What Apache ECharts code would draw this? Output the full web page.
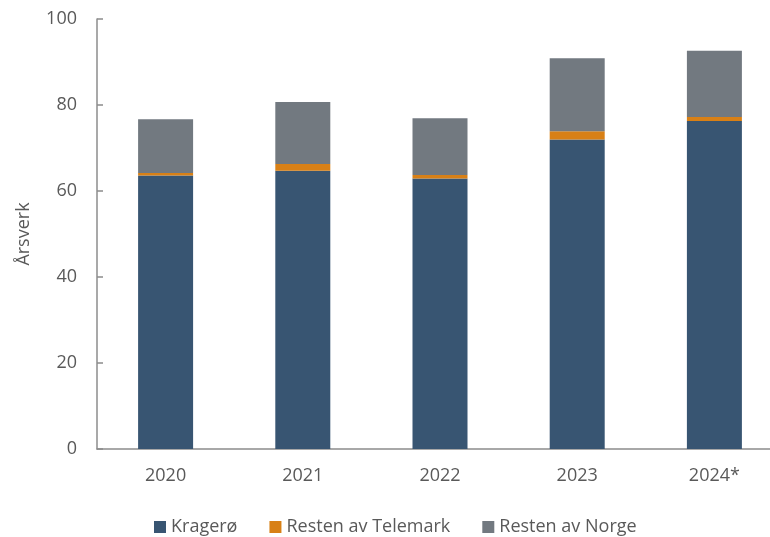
<!DOCTYPE html>
<html>
<head>
<meta charset="utf-8">
<script src="https://cdn.jsdelivr.net/npm/echarts@6/dist/echarts.min.js"></script>
<style>
  html, body { margin: 0; padding: 0; background: #fff; }
  #chart { width: 770px; height: 537px; }
</style>
</head>
<body>
<div id="chart"></div>
<script>
// data (Årsverk per year)
const years = ['2020', '2021', '2022', '2023', '2024*'];
const kragero = [63.6, 64.7, 62.9, 72.0, 76.3];
const restTelemark = [0.6, 1.6, 0.8, 1.9, 0.9];
const restNorge = [12.5, 14.4, 13.2, 17.0, 15.4];
const yTicks = [0, 20, 40, 60, 80, 100];

const FONT = '"Open Sans", "Noto Sans", sans-serif';
const TEXT = '#595959';

const chart = echarts.init(document.getElementById('chart'), null, { renderer: 'canvas' });

function stacked(name, data, color) {
    return {
        name, type: 'bar', stack: 'total', data,
        barWidth: 55,
        itemStyle: { color },
        emphasis: { disabled: true },
    };
}

chart.setOption({
    animation: false,
    textStyle: { fontFamily: FONT },
    // plot runs past the right edge in the reference (cropped), so fix the width
    grid: { left: 97, width: 686, top: 19, bottom: 88, containLabel: false, outerBoundsMode: 'none' },
    legend: {
        top: 518, left: 154, padding: 0,
        itemWidth: 12, itemHeight: 12, itemGap: 32,
        icon: 'rect',
        textStyle: { fontFamily: FONT, fontSize: 18, color: TEXT },
        data: ['Kragerø', 'Resten av Telemark', 'Resten av Norge'],
    },
    xAxis: {
        type: 'category', data: years,
        axisLine: { lineStyle: { color: '#8c8c8c', width: 1.5 } },
        axisTick: { show: false },
        axisLabel: { color: TEXT, fontSize: 18, fontFamily: FONT, margin: 18 },
    },
    yAxis: {
        type: 'value', min: yTicks[0], max: yTicks[yTicks.length - 1], interval: 20,
        name: 'Årsverk', nameLocation: 'middle', nameGap: 64,
        nameTextStyle: { color: TEXT, fontSize: 18, fontFamily: FONT },
        axisLine: { show: true, lineStyle: { color: '#8c8c8c', width: 1.5 } },
        axisTick: { show: true, inside: true, length: 6, lineStyle: { color: '#8c8c8c', width: 1.5 } },
        axisLabel: { color: TEXT, fontSize: 18, fontFamily: FONT, margin: 20 },
        splitLine: { show: false },
    },
    series: [
        stacked('Kragerø', kragero, '#385572'),
        stacked('Resten av Telemark', restTelemark, '#d88016'),
        stacked('Resten av Norge', restNorge, '#727980'),
    ],
});
</script>
</body>
</html>
